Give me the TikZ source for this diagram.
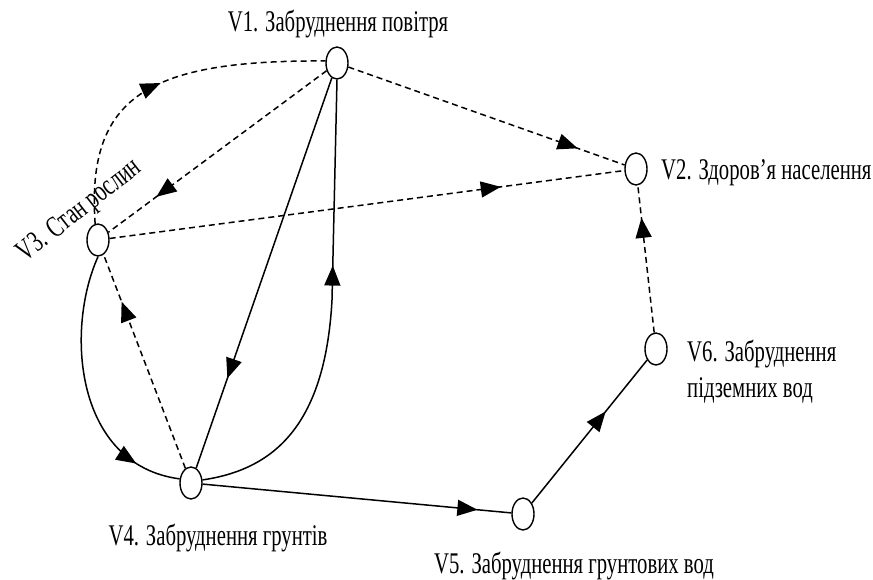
\documentclass[tikz,border=0pt]{standalone}
\usepackage{fontspec}
\setmainfont{Liberation Serif}[FakeStretch=0.69]
\usetikzlibrary{shapes.geometric,decorations.markings,arrows.meta}

\tikzset{
  vertex/.style={draw,ellipse,line width=1.4pt,minimum width=22pt,minimum height=32pt,inner sep=0pt},
  vlabel/.style={inner sep=0pt},
  mid/.style={postaction={decorate},decoration={markings,
      mark=at position #1 with {\arrow{Triangle[length=20pt,width=16pt]}}}},
  link/.style={line width=1.5pt},
  weak/.style={line width=1.5pt,dash pattern=on 6pt off 4pt},
}

\begin{document}
\begin{tikzpicture}[x=1pt,y=-1pt,font=\fontsize{30}{36}\selectfont]
   \useasboundingbox (0,0) rectangle (873,579);
   % vertices
   \node[vertex] (v_1) at (337,63)  {};
   \node[vertex] (v_2) at (636,169) {};
   \node[vertex] (v_3) at (98,240)  {};
   \node[vertex] (v_4) at (191,483) {};
   \node[vertex] (v_5) at (523,514) {};
   \node[vertex] (v_6) at (656,349) {};
   % labels
   \node[vlabel,anchor=base] (l_1) at (338,31) {V1. Забруднення повітря};
   \node[vlabel,anchor=base west] (l_2) at (661,179) {V2. Здоров’я населення};
   \node[vlabel,rotate=38] (l_3) at (80,211) {V3. Стан рослин};
   \node[vlabel,anchor=base] (l_4) at (218,545) {V4. Забруднення грунтів};
   \node[vlabel,anchor=base] (l_5) at (574,573) {V5. Забруднення грунтових вод};
   \node[vlabel,anchor=base west,align=left] (l_6) at (687,397) {V6. Забруднення\\підземних вод};
   % connectors
   \coordinate (bend) at (332,300);
   \draw[weak,mid=0.5] (v_3.100) .. controls (86,95) and (150,60) .. (v_1.170);
   \draw[link,mid=0.83] (v_3.south) .. controls (65,330) and (75,465) .. (v_4.160);
   \draw[link,mid=0.6] (v_4.15) .. controls (270,470) and (325,430) .. (bend) -- (v_1.south);
   \path (v_1) edge[weak,mid=0.78] (v_3)
         (v_1) edge[weak,mid=0.83] (v_2)
         (v_3) edge[weak,mid=0.76] (v_2)
         (v_6) edge[weak,mid=0.78] (v_2)
         (v_4) edge[weak,mid=0.78] (v_3)
         (v_1) edge[link,mid=0.77] (v_4)
         (v_4) edge[link,mid=0.89] (v_5)
         (v_5) edge[link,mid=0.64] (v_6);
\end{tikzpicture}
\end{document}
